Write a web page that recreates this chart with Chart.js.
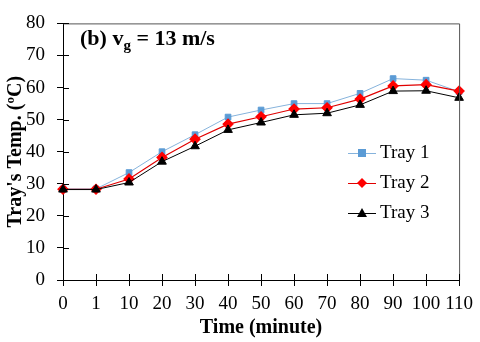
<!DOCTYPE html>
<html>
<head>
<meta charset="utf-8">
<script src="https://cdn.jsdelivr.net/npm/chart.js@4"></script>
<style>
  html, body { margin: 0; padding: 0; background: #fff; }
  #wrap { width: 480px; height: 342px; position: relative; }
</style>
</head>
<body>
<div id="wrap"><canvas id="trayChart"></canvas></div>
<script>
// chart data
const timeLabels = ['0', '1', '10', '20', '30', '40', '50', '60', '70', '80', '90', '100', '110'];
const tray1 = [28.4, 28.4, 33.5, 40.0, 45.3, 50.8, 53.0, 55.0, 55.0, 58.2, 62.8, 62.3, 58.7];
const tray2 = [28.3, 28.3, 31.5, 38.2, 43.9, 48.6, 50.9, 53.3, 53.7, 56.4, 60.5, 60.9, 58.9];
const tray3 = [28.2, 28.2, 30.4, 36.9, 41.7, 46.8, 49.1, 51.5, 52.0, 54.6, 58.9, 59.0, 56.8];
const yTicks = [0, 10, 20, 30, 40, 50, 60, 70, 80];

const serif = "'Liberation Serif', 'Times New Roman', serif";

function drawMarker(ctx, style, r, x, y) {
    ctx.beginPath();
    if (style === 'rect') {
        ctx.rect(x - r, y - r, 2 * r, 2 * r);
    } else if (style === 'rectRot') {
        ctx.moveTo(x, y - r);
        ctx.lineTo(x + r, y);
        ctx.lineTo(x, y + r);
        ctx.lineTo(x - r, y);
        ctx.closePath();
    } else {
        ctx.moveTo(x, y - r);
        ctx.lineTo(x + r, y + r * 0.8);
        ctx.lineTo(x - r, y + r * 0.8);
        ctx.closePath();
    }
    ctx.fill();
}

// frame, crossing ticks, legend and panel label
const extrasPlugin = {
    id: 'extras',
    afterDraw(chart) {
        const ctx = chart.ctx;
        const a = chart.chartArea;
        const xs = chart.scales.x, ys = chart.scales.y;
        ctx.save();
        // top / right frame
        ctx.strokeStyle = '#555';
        ctx.lineWidth = 1;
        ctx.beginPath();
        ctx.moveTo(a.left, a.top + 0.5);
        ctx.lineTo(a.right + 0.5, a.top + 0.5);
        ctx.lineTo(a.right + 0.5, a.bottom);
        ctx.stroke();
        // inner part of tick marks
        ctx.strokeStyle = '#000';
        ctx.beginPath();
        xs.ticks.forEach((t, i) => {
            const px = Math.round(xs.getPixelForTick(i)) + 0.5;
            ctx.moveTo(px, a.bottom);
            ctx.lineTo(px, a.bottom - 6);
        });
        ys.ticks.forEach((t, i) => {
            const py = Math.round(ys.getPixelForTick(i)) + 0.5;
            ctx.moveTo(a.left, py);
            ctx.lineTo(a.left + 6, py);
        });
        ctx.stroke();

        // legend
        const lx = 348, ly = [153, 183, 213];
        chart.data.datasets.forEach((ds, i) => {
            const y = ly[i];
            ctx.strokeStyle = ds.borderColor;
            ctx.lineWidth = 1;
            ctx.beginPath();
            ctx.moveTo(lx, y + 0.5);
            ctx.lineTo(lx + 28, y + 0.5);
            ctx.stroke();
            ctx.fillStyle = ds.pointBackgroundColor;
            drawMarker(ctx, ds.pointStyle, ds.pointRadius, lx + 14, y);
            ctx.fillStyle = '#000';
            ctx.font = '19px ' + serif;
            ctx.textAlign = 'left';
            ctx.textBaseline = 'middle';
            ctx.fillText(ds.label, lx + 32, y);
        });

        // panel label "(b) vg = 13 m/s"
        ctx.fillStyle = '#000';
        ctx.textBaseline = 'alphabetic';
        ctx.textAlign = 'left';
        ctx.font = 'bold 22px ' + serif;
        let x = 80;
        const base = 45;
        ctx.fillText('(b) v', x, base);
        x += ctx.measureText('(b) v').width;
        ctx.font = 'bold 15px ' + serif;
        ctx.fillText('g', x, base + 5);
        x += ctx.measureText('g').width;
        ctx.font = 'bold 22px ' + serif;
        ctx.fillText(' = 13 m/s', x, base);
        ctx.restore();
    }
};

new Chart(document.getElementById('trayChart'), {
    type: 'line',
    data: {
        labels: timeLabels,
        datasets: [
            {
                label: 'Tray 1',
                data: tray1,
                borderColor: '#86b3dc',
                borderWidth: 1,
                pointStyle: 'rect',
                pointRadius: 4,
                pointBackgroundColor: '#5b9bd5',
                pointBorderColor: '#5b9bd5',
                order: 3
            },
            {
                label: 'Tray 2',
                data: tray2,
                borderColor: '#e00000',
                borderWidth: 1.2,
                pointStyle: 'rectRot',
                pointRadius: 5,
                pointBackgroundColor: '#ff0000',
                pointBorderColor: '#ff0000',
                order: 2
            },
            {
                label: 'Tray 3',
                data: tray3,
                borderColor: '#000',
                borderWidth: 1,
                pointStyle: 'triangle',
                pointRadius: 5,
                pointBackgroundColor: '#000',
                pointBorderColor: '#000',
                order: 1
            }
        ]
    },
    options: {
        responsive: true,
        maintainAspectRatio: false,
        animation: false,
        layout: { padding: { top: 11, right: 15, left: 0, bottom: 0 } },
        elements: { line: { tension: 0 } },
        plugins: {
            legend: { display: false },
            tooltip: { enabled: false }
        },
        scales: {
            x: {
                offset: false,
                grid: { drawOnChartArea: false, tickLength: 6, color: '#000' },
                border: { color: '#000', width: 1 },
                ticks: {
                    color: '#000',
                    font: { family: serif, size: 19 },
                    padding: 7,
                    maxRotation: 0,
                    autoSkip: false
                },
                title: {
                    display: true,
                    text: 'Time (minute)',
                    color: '#000',
                    font: { family: serif, size: 20, weight: 'bold' },
                    padding: { top: 0, bottom: 2 }
                },
                afterFit: s => { s.height = 62; }
            },
            y: {
                min: 0,
                max: 80,
                afterBuildTicks: s => { s.ticks = yTicks.map(v => ({ value: v })); },
                grid: { drawOnChartArea: false, tickLength: 6, color: '#000' },
                border: { color: '#000', width: 1 },
                ticks: {
                    color: '#000',
                    font: { family: serif, size: 19 },
                    padding: 12
                },
                title: {
                    display: true,
                    text: "Tray's Temp. (ºC)",
                    color: '#000',
                    font: { family: serif, size: 20, weight: 'bold' },
                    padding: { top: 4, bottom: 0 }
                },
                afterFit: s => { s.width = 63; }
            }
        }
    },
    plugins: [extrasPlugin]
});
</script>
</body>
</html>
